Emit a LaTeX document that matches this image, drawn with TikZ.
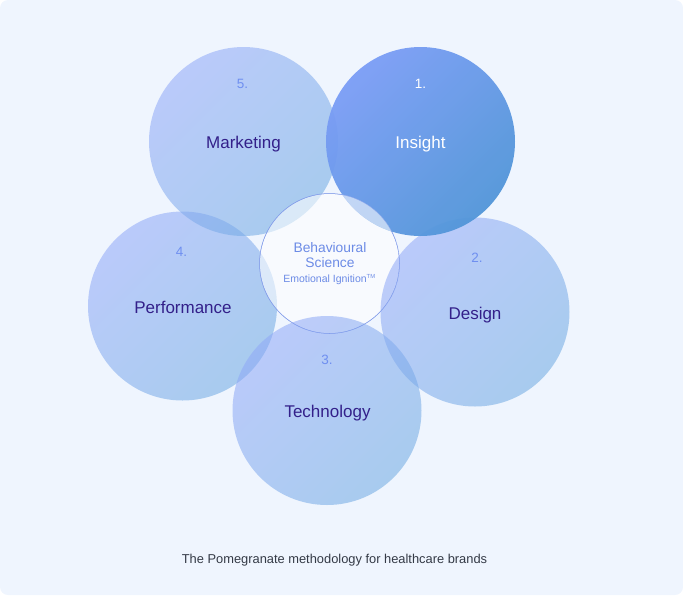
\documentclass[tikz,border=0pt]{standalone}
\usepackage{fontspec}
\usepackage{xcolor}
\setmainfont{Liberation Sans}
\definecolor{pagebg}{HTML}{EFF5FE}
\definecolor{petalA}{HTML}{8FA8F8}
\definecolor{petalB}{HTML}{6EAAE2}
\definecolor{insightA}{HTML}{7A9CF6}
\definecolor{insightB}{HTML}{5095D8}
\definecolor{inkname}{HTML}{33208A}
\definecolor{inknum}{HTML}{6F8FF0}
\definecolor{inkcore}{HTML}{6C8BE6}
\definecolor{inkcap}{HTML}{343A46}
\tikzset{
	petal/.style={circle,inner sep=0pt,minimum size=189pt,top color=petalA,bottom color=petalB,
		shading angle=45,fill opacity=.55},
	petaltop/.style={petal,top color=insightA,bottom color=insightB,shading angle=45,fill opacity=.94},
	core/.style={circle,inner sep=0pt,minimum size=140pt,draw=inkcore!85,line width=.5pt,
		fill=white,fill opacity=.58},
	petalname/.style={font=\fontsize{17}{20}\selectfont,text=inkname},
	petalnum/.style={font=\fontsize{13.5}{16}\selectfont,text=inknum},
	coretext/.style={text=inkcore,align=center}
}

\begin{document}
\begin{tikzpicture}[x=1pt,y=-1pt]
	\fill[pagebg,rounded corners=8pt] (0,0) rectangle (683,595);
	\useasboundingbox (0,0) rectangle (683,595);
	\node [petal]    (performance) at (182.5,306)   {};
	\node [petal]    (marketing)   at (243.5,141.5) {};
	\node [core]     (behaviour)   at (329.5,263.5) {};
	\node [petal]    (design)      at (475,312)     {};
	\node [petal]    (technology)  at (327,410.5)   {};
	\node [petaltop] (insight)     at (420.5,141.5) {};
	% the white disc also lies over the dark petal
	\begin{scope}
		\clip (329.5,263.5) circle (70pt);
		\fill[white,fill opacity=.58] (420.5,141.5) circle (94.5pt);
		\draw[inkcore!85,line width=.5pt] (329.5,263.5) circle (70pt);
	\end{scope}

	\node [petalnum,text=white] (n1) at ([yshift=57.5pt]insight.center)           {1.};
	\node [petalnum] (n2) at ([xshift=2pt,yshift=54pt]design.center)              {2.};
	\node [petalnum] (n3) at ([yshift=51pt]technology.center)                     {3.};
	\node [petalnum] (n4) at ([xshift=-1pt,yshift=54pt]performance.center)        {4.};
	\node [petalnum] (n5) at ([xshift=-1pt,yshift=57.5pt]marketing.center)        {5.};

	\node [petalname,text=white] (t1) at ([yshift=-3pt]insight.center)            {Insight};
	\node [petalname] (t2) at ([yshift=-3pt]design.center)                        {Design};
	\node [petalname] (t3) at ([xshift=.5pt,yshift=-3pt]technology.center)        {Technology};
	\node [petalname] (t4) at ([xshift=.5pt,yshift=-1pt]performance.center)       {Performance};
	\node [petalname] (t5) at ([yshift=-3pt]marketing.center)                     {Marketing};

	\node [coretext,font=\fontsize{13.8}{15}\selectfont] (c1) at (330,255.5) {Behavioural\\Science};
	\node [coretext,font=\fontsize{10.5}{12}\selectfont] (c2) at (329.5,280) {Emotional Ignition\textsuperscript{\scalebox{.8}{TM}}};

	\node [text=inkcap,font=\fontsize{12.86}{16}\selectfont] (caption) at (334.5,560.5) {The Pomegranate methodology for healthcare brands};
\end{tikzpicture}
\end{document}
